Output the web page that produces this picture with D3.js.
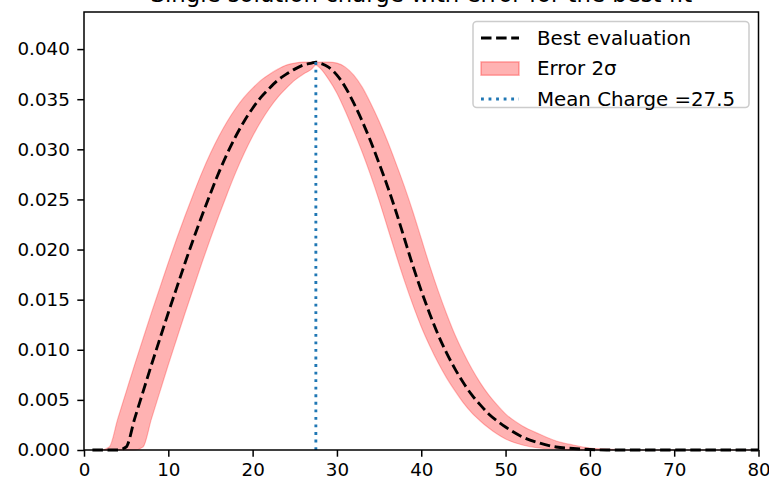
<!DOCTYPE html>
<html>
<head>
  <meta charset="utf-8">
  <script src="https://d3js.org/d3.v7.min.js"></script>
  <style>
    body { margin: 0; background: #fff; }
    text { font-family: "DejaVu Sans", sans-serif; }
  </style>
</head>
<body>
<script>
// values
var chargeX = [1,2,3,4,5,6,7,8,9,10,11,12,13,14,15,16,17,18,19,20,21,22,23,24,25,26,27,27.5,
  28,29,30,31,32,33,34,35,36,37,38,39,40,41,42,43,44,45,46,47,48,49,50,52,54,56,58,60,62,65,70,75,80];

var bestEval = [0,0,0,0,0.0003,0.0031,0.0058,0.0085,0.0111,0.0137,0.0162,0.0187,0.0211,0.0234,0.0256,
  0.0277,0.0296,0.0313,0.0328,0.0341,0.0352,0.0361,0.0369,0.0375,0.0380,0.0384,0.0386,0.0387,
  0.0386,0.0382,0.0374,0.0362,0.0346,0.0328,0.0308,0.0286,0.0263,0.0238,0.0211,0.0184,0.0159,
  0.0136,0.0115,0.0097,0.0081,0.0067,0.0055,0.0045,0.0036,0.0029,0.0023,0.0013,0.0007,0.0003,
  0.00015,0.00005,0,0,0,0,0];

var errHigh = [0,0,0.0003,0.0031,0.0058,0.0085,0.0111,0.0137,0.0162,0.0187,0.0211,0.0234,0.0256,
  0.0277,0.0296,0.0313,0.0328,0.0341,0.0352,0.0361,0.0369,0.0375,0.0380,0.0384,0.0386,0.0387,
  0.0387,0.0387,0.0387,0.0387,0.0386,0.0382,0.0374,0.0362,0.0346,0.0328,0.0308,0.0286,0.0263,
  0.0238,0.0211,0.0184,0.0159,0.0136,0.0115,0.0097,0.0081,0.0067,0.0055,0.0045,0.0036,0.0024,
  0.0016,0.0009,0.0005,0.0002,0.0001,0,0,0,0];

var errLow = [0,0,0,0,0,0,0.0003,0.0031,0.0058,0.0085,0.0111,0.0137,0.0162,0.0187,0.0211,0.0234,
  0.0256,0.0277,0.0296,0.0313,0.0328,0.0341,0.0352,0.0361,0.0369,0.0375,0.0380,0.0384,
  0.0381,0.0370,0.0356,0.0338,0.0318,0.0297,0.0274,0.0249,0.0222,0.0195,0.0169,0.0145,0.0123,
  0.0104,0.0087,0.0072,0.0059,0.0047,0.0037,0.0029,0.0022,0.0016,0.0011,0.0005,0.0002,0.0001,
  0,0,0,0,0,0,0];

var meanCharge = 27.5;
var xTicks = [0,10,20,30,40,50,60,70,80];
var yTicks = [0,0.005,0.010,0.015,0.020,0.025,0.030,0.035,0.040];
var legendLabels = ["Best evaluation", "Error 2\u03c3", "Mean Charge =" + meanCharge];
var titleText = "Single solution charge with error for the best fit";

(function() {
  var W = 769, H = 482;
  var mLeft = 84, mRight = 758.5, mTop = 12, mBottom = 450;

  var svg = d3.select("body").append("svg")
      .attr("width", W).attr("height", H);

  var x = d3.scaleLinear().domain([0, 80]).range([mLeft, mRight]);
  var y = d3.scaleLinear().domain([0, 0.0437]).range([mBottom, mTop]);

  var rows = chargeX.map(function(c, i) {
    return {c: c, b: bestEval[i], lo: errLow[i], hi: errHigh[i]};
  });

  // title: only its lower edge shows at the top of the picture
  svg.append("text")
      .attr("x", (mLeft + mRight) / 2).attr("y", 2)
      .attr("text-anchor", "middle")
      .style("font-size", "22.8px")
      .text(titleText);

  var plot = svg.append("g");

  plot.append("path")
      .datum(rows)
      .attr("d", d3.area()
        .x(function(d) { return x(d.c); })
        .y0(function(d) { return y(d.lo); })
        .y1(function(d) { return y(d.hi); })
        .curve(d3.curveMonotoneX))
      .attr("fill", "red").attr("fill-opacity", 0.3)
      .attr("stroke", "red").attr("stroke-opacity", 0.25).attr("stroke-width", 1.2);

  plot.append("path")
      .datum(rows)
      .attr("d", d3.line()
        .x(function(d) { return x(d.c); })
        .y(function(d) { return y(d.b); })
        .curve(d3.curveMonotoneX))
      .attr("fill", "none")
      .attr("stroke", "black").attr("stroke-width", 2.85)
      .attr("stroke-dasharray", "10.5,4.6");

  plot.append("line")
      .attr("x1", x(meanCharge)).attr("x2", x(meanCharge))
      .attr("y1", y(0)).attr("y2", y(d3.max(bestEval)))
      .attr("stroke", "#1f77b4").attr("stroke-width", 2.85)
      .attr("stroke-dasharray", "2.85,4.7");

  // axes
  var xAxis = svg.append("g")
      .attr("transform", "translate(0," + mBottom + ")")
      .call(d3.axisBottom(x).tickValues(xTicks).tickFormat(d3.format("d"))
        .tickSize(6.7).tickPadding(6.2).tickSizeOuter(0));
  var yAxis = svg.append("g")
      .attr("transform", "translate(" + mLeft + ",0)")
      .call(d3.axisLeft(y).tickValues(yTicks).tickFormat(d3.format(".3f"))
        .tickSize(6.7).tickPadding(7.5).tickSizeOuter(0));

  [xAxis, yAxis].forEach(function(a) {
    a.select(".domain").remove();
    a.selectAll(".tick line").attr("stroke", "black").attr("stroke-width", 1.5);
    a.selectAll(".tick text").attr("fill", "black")
      .style("font-size", "18.3px").style("font-family", "DejaVu Sans");
  });

  svg.append("rect")
      .attr("x", mLeft).attr("y", mTop)
      .attr("width", mRight - mLeft).attr("height", mBottom - mTop)
      .attr("fill", "none").attr("stroke", "black").attr("stroke-width", 1.5);

  // legend
  var lg = svg.append("g");
  lg.append("rect")
      .attr("x", 473).attr("y", 21.5).attr("width", 276).attr("height", 86)
      .attr("rx", 3.8)
      .attr("fill", "white").attr("fill-opacity", 0.8)
      .attr("stroke", "#cccccc").attr("stroke-width", 1.5);

  var rowY = [38, 68.5, 99];
  lg.append("line")
      .attr("x1", 481).attr("x2", 519).attr("y1", rowY[0]).attr("y2", rowY[0])
      .attr("stroke", "black").attr("stroke-width", 2.85)
      .attr("stroke-dasharray", "10.5,4.6");
  lg.append("rect")
      .attr("x", 481).attr("y", rowY[1] - 6.6).attr("width", 38).attr("height", 13.3)
      .attr("fill", "red").attr("fill-opacity", 0.3)
      .attr("stroke", "red").attr("stroke-opacity", 0.3).attr("stroke-width", 1.5);
  lg.append("line")
      .attr("x1", 481).attr("x2", 519).attr("y1", rowY[2]).attr("y2", rowY[2])
      .attr("stroke", "#1f77b4").attr("stroke-width", 2.85)
      .attr("stroke-dasharray", "2.85,4.7");

  lg.selectAll("text.lab")
      .data(legendLabels)
    .enter().append("text")
      .attr("class", "lab")
      .attr("x", 537)
      .attr("y", function(d, i) { return rowY[i]; })
      .attr("dy", "0.35em")
      .style("font-size", "19.8px")
      .text(function(d) { return d; });
})();
</script>
</body>
</html>
